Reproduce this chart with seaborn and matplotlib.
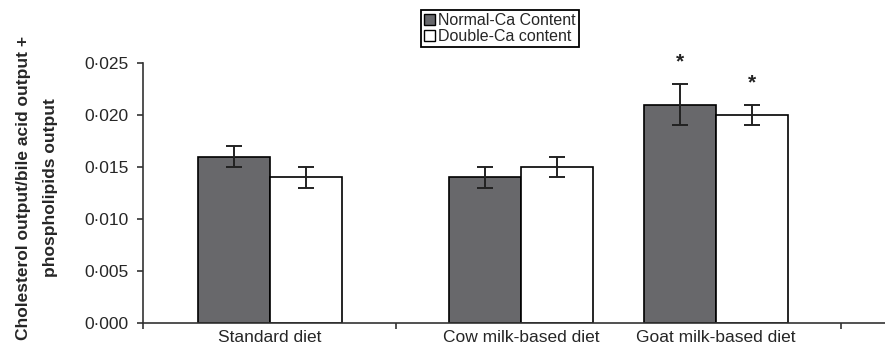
import numpy as np
import pandas as pd
import matplotlib
matplotlib.use('Agg')
import matplotlib.pyplot as plt
import seaborn as sns
from matplotlib.patches import Patch
from matplotlib.ticker import FuncFormatter, FixedLocator

# data
diets = ['Standard diet', 'Cow milk-based diet', 'Goat milk-based diet']
series = ['Normal-Ca Content', 'Double-Ca content']
normal_ca = [0.016, 0.014, 0.021]
normal_ca_err = [0.001, 0.001, 0.002]
double_ca = [0.014, 0.015, 0.020]
double_ca_err = [0.001, 0.001, 0.001]
normal_ca_sig = [False, False, True]
double_ca_sig = [False, False, True]
y_ticks = [0.000, 0.005, 0.010, 0.015, 0.020, 0.025]

# layout: the original (Excel) chart has uneven group spacing
group_pos = [1.27, 3.78, 5.73]
boundary_ticks = [0, 2.53, 6.98]

df = pd.DataFrame({
    'diet': diets * 2,
    'series': [series[0]] * 3 + [series[1]] * 3,
    'value': normal_ca + double_ca,
    'err': normal_ca_err + double_ca_err,
    'sig': normal_ca_sig + double_ca_sig,
})
df['pos'] = df['diet'].map(dict(zip(diets, group_pos)))

sns.set_style('ticks')
plt.rcParams['font.family'] = ['Liberation Sans', 'DejaVu Sans']

colors = {series[0]: '#67686c', series[1]: '#ffffff'}

fig, ax = plt.subplots(figsize=(8.85, 3.52), dpi=100)
fig.subplots_adjust(left=0.1616, right=1.0, bottom=0.0824, top=0.821)

sns.barplot(data=df, x='pos', y='value', hue='series', hue_order=series,
            palette=colors, native_scale=True, width=0.736, errorbar=None,
            edgecolor='black', linewidth=1.2, legend=False, ax=ax)

# error bars and significance stars on top of each bar
for cont, s in zip(ax.containers, series):
    sub = df[df['series'] == s].sort_values('pos')
    xs = [p.get_x() + p.get_width() / 2 for p in cont.patches]
    ax.errorbar(xs, sub['value'], yerr=sub['err'], fmt='none', ecolor='#222222',
                elinewidth=1.4, capsize=6, capthick=1.4, zorder=5)
    for x, v, e, sg in zip(xs, sub['value'], sub['err'], sub['sig']):
        if sg:
            ax.text(x, v + e + 0.0012, '*', ha='center', va='bottom',
                    fontsize=15, fontweight='bold', color='#222222', clip_on=False)

ax.set_xlim(0, 7.42)
ax.set_ylim(0, 0.025)
ax.set_yticks(y_ticks)
ax.yaxis.set_major_formatter(FuncFormatter(lambda v, _: f'{v:.3f}'.replace('.', '\u00b7')))

ax.xaxis.set_major_locator(FixedLocator(boundary_ticks))
ax.xaxis.set_major_formatter(FuncFormatter(lambda v, _: ''))
ax.xaxis.set_minor_locator(FixedLocator(group_pos))
ax.set_xticklabels(diets, minor=True)
ax.tick_params(axis='x', which='minor', length=0, pad=5, labelsize=12.5)
ax.tick_params(axis='both', which='major', direction='out', length=4, width=1.2,
               color='#333333', labelsize=12.5)
ax.tick_params(axis='y', which='major', pad=6.5)

sns.despine(ax=ax)
for sp in ['left', 'bottom']:
    ax.spines[sp].set_linewidth(1.2)
    ax.spines[sp].set_color('#333333')

ax.set_xlabel('')
ax.set_ylabel('Cholesterol output/bile acid output +\nphospholipids output',
              fontweight='bold', fontsize=12.5, linespacing=2.0)
ax.yaxis.set_label_coords(-0.115, 0.52)

handles = [Patch(facecolor=colors[s], edgecolor='black', linewidth=1) for s in series]
leg = fig.legend(handles, series, loc='center', bbox_to_anchor=(0.565, 0.918),
                 frameon=True, fancybox=False, edgecolor='black', framealpha=1,
                 handlelength=0.7, handleheight=0.7, handletextpad=0.2,
                 borderpad=0.2, labelspacing=0.05, fontsize=11.5)
leg.get_frame().set_linewidth(1.3)

plt.savefig('out.png', dpi=100)
